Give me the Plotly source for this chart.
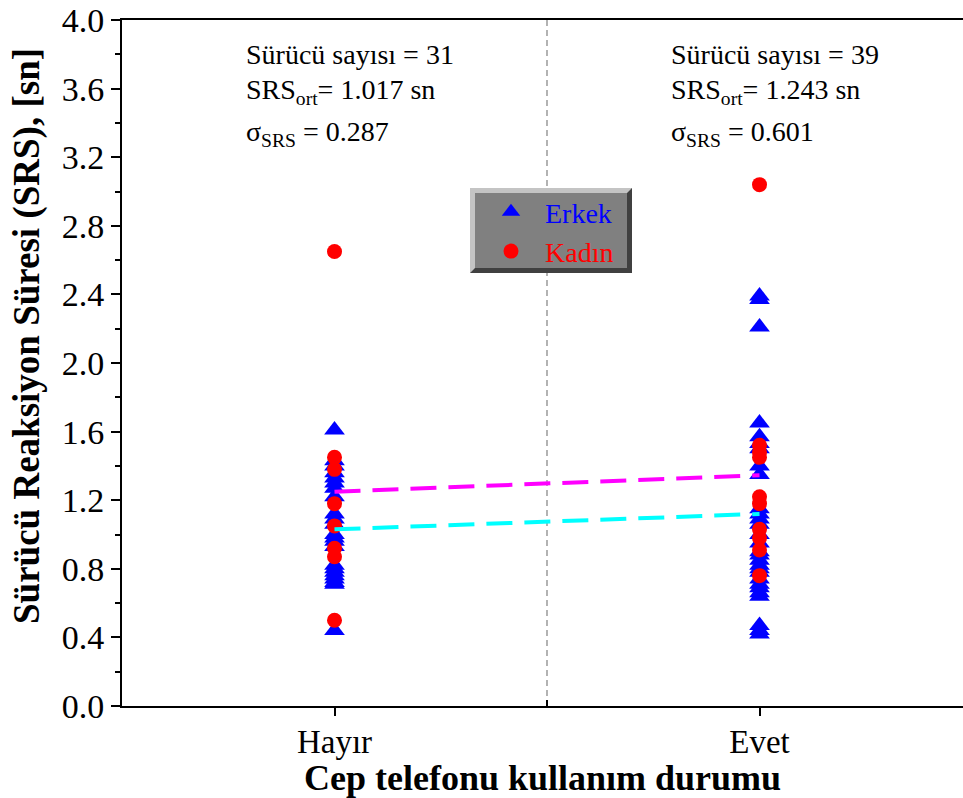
import plotly.graph_objects as go

# ---------------- data ----------------
categories = ["Hayır", "Evet"]
cat_pos = [1, 2]

# Erkek (male) reaction times
erkek_hayir = [1.61, 1.43, 1.40, 1.36, 1.33, 1.30, 1.27, 1.22, 1.12, 1.09, 1.06,
               1.00, 0.98, 0.96, 0.93, 0.82, 0.80, 0.78, 0.76, 0.74, 0.72, 0.71, 0.44]
erkek_evet = [2.39, 2.37, 2.21, 1.65, 1.57, 1.53, 1.50, 1.40, 1.35, 1.15, 1.12,
              1.09, 1.06, 1.00, 0.95, 0.90, 0.88, 0.85, 0.82, 0.80, 0.78, 0.74,
              0.71, 0.69, 0.66, 0.64, 0.47, 0.44, 0.42]
# Kadın (female) reaction times
kadin_hayir = [2.65, 1.45, 1.38, 1.18, 1.05, 0.92, 0.87, 0.50]
kadin_evet = [3.04, 1.52, 1.48, 1.45, 1.22, 1.18, 1.03, 0.98, 0.91, 0.76]

# dashed trend lines
trend_magenta = [1.25, 1.345]
trend_cyan = [1.03, 1.12]

stats_hayir = ["Sürücü sayısı = 31", "SRS<sub>ort</sub>= 1.017 sn", "σ<sub>SRS</sub> = 0.287"]
stats_evet = ["Sürücü sayısı = 39", "SRS<sub>ort</sub>= 1.243 sn", "σ<sub>SRS</sub> = 0.601"]

x_title = "Cep telefonu kullanım durumu"
y_title = "Sürücü Reaksiyon Süresi (SRS), [sn]"

FONT = "'Liberation Serif', 'Times New Roman', Times, serif"
W, H = 963, 798
L, R, T, B = 122, 0, 20, 92
PW = W - L - R
PH = H - T - B


def px(xp):
    return (xp - L) / PW


def py(yp):
    return (H - B - yp) / PH


fig = go.Figure()

fig.add_trace(go.Scatter(
    x=[cat_pos[0]] * len(erkek_hayir) + [cat_pos[1]] * len(erkek_evet),
    y=erkek_hayir + erkek_evet,
    mode="markers",
    marker=dict(symbol="triangle-up", size=18, color="#0000ff", line=dict(width=0)),
    name="\u00a0\u00a0<span style='color:#0000ff'>Erkek</span>",
))
fig.add_trace(go.Scatter(
    x=[cat_pos[0]] * len(kadin_hayir) + [cat_pos[1]] * len(kadin_evet),
    y=kadin_hayir + kadin_evet,
    mode="markers",
    marker=dict(symbol="circle", size=15, color="#ff0000", line=dict(width=0)),
    name="\u00a0\u00a0<span style='color:#ff0000'>Kadın</span>",
))
fig.add_trace(go.Scatter(
    x=cat_pos, y=trend_magenta, mode="lines",
    line=dict(color="#ff00ff", width=4, dash="26px,12px"),
    showlegend=False, hoverinfo="skip",
))
fig.add_trace(go.Scatter(
    x=cat_pos, y=trend_cyan, mode="lines",
    line=dict(color="#00ffff", width=4, dash="26px,12px"),
    showlegend=False, hoverinfo="skip",
))

shapes = [
    # vertical dashed separator
    dict(type="line", xref="x", yref="y", x0=1.5, x1=1.5, y0=0, y1=4,
         line=dict(color="#808080", width=1.2, dash="6px,4px"), layer="below"),
    # small tick at separator
    dict(type="line", xref="x", yref="paper", x0=1.5, x1=1.5, y0=0, y1=6 / PH,
         line=dict(color="black", width=2)),
    # legend bevel box
    dict(type="rect", xref="paper", yref="paper", x0=px(470), x1=px(632), y0=py(273), y1=py(188),
         fillcolor="#404040", line=dict(width=0)),
    dict(type="path", xref="paper", yref="paper",
         path=f"M {px(470)} {py(188)} L {px(632)} {py(188)} L {px(627)} {py(193)} "
              f"L {px(475)} {py(193)} L {px(475)} {py(268)} L {px(470)} {py(273)} Z",
         fillcolor="#c4c4c4", line=dict(width=0)),
    dict(type="rect", xref="paper", yref="paper", x0=px(475), x1=px(627), y0=py(268), y1=py(193),
         fillcolor="#808080", line=dict(width=0)),
]

annotations = []
line_y = [55, 91, 134]
for xs, texts in ((244, stats_hayir), (669, stats_evet)):
    for yy, t in zip(line_y, texts):
        annotations.append(dict(
            text=t, xref="paper", yref="paper", x=px(xs), y=py(yy),
            xanchor="left", yanchor="middle", showarrow=False,
            font=dict(family=FONT, size=28, color="black"),
        ))

# y axis title placed as rotated text (it sits slightly above the plot centre)
annotations.append(dict(
    text=y_title, xref="paper", yref="paper", x=px(27), y=py(336),
    xanchor="center", yanchor="middle", showarrow=False, textangle=-90,
    font=dict(family=FONT, size=37, color="black", weight="bold"),
))

fig.update_layout(
    width=W, height=H,
    margin=dict(l=L, r=R, t=T, b=B, pad=0),
    paper_bgcolor="white", plot_bgcolor="white",
    font=dict(family=FONT, color="black"),
    shapes=shapes,
    annotations=annotations,
    showlegend=True,
    legend=dict(
        x=px(491), y=py(187), xanchor="left", yanchor="top",
        bgcolor="rgba(0,0,0,0)", borderwidth=0,
        font=dict(family=FONT, size=28, color="black"),
        tracegroupgap=0, itemsizing="trace",
    ),
    xaxis=dict(
        range=[0.5, 0.5 + PW / 425.0],
        tickmode="array", tickvals=cat_pos, ticktext=categories,
        ticks="outside", ticklen=8, tickwidth=2, tickcolor="black",
        ticklabelstandoff=-3,
        showline=True, linewidth=2, linecolor="black", mirror=True,
        showgrid=False, zeroline=False,
        tickfont=dict(family=FONT, size=33, color="black"),
        title=dict(text=x_title,
                   font=dict(family=FONT, size=36, color="black", weight="bold"),
                   standoff=0),
    ),
    yaxis=dict(
        range=[0, 4], tick0=0, dtick=0.4, tickformat=".1f",
        ticks="outside", ticklen=9, tickwidth=2, tickcolor="black",
        minor=dict(dtick=0.2, ticks="outside", ticklen=5, tickwidth=2, tickcolor="black", showgrid=False),
        showline=True, linewidth=2, linecolor="black", mirror=False,
        showgrid=False, zeroline=False,
        tickfont=dict(family=FONT, size=34, color="black"),
    ),
)

fig.write_html("out.html")
